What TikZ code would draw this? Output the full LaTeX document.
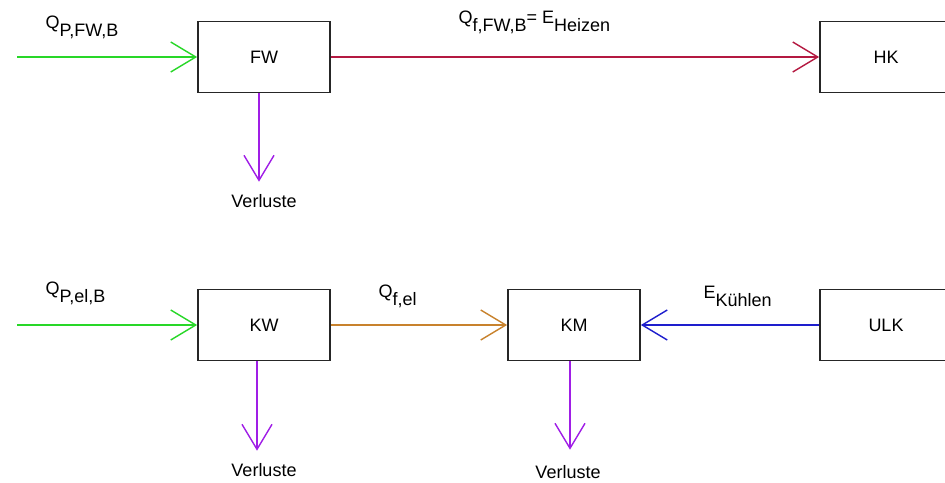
\documentclass[tikz,border=0pt]{standalone}
\usepackage{fontspec}
\setmainfont{Liberation Sans}
\usetikzlibrary{arrows.meta}
\newcommand{\tiefer}[1]{\raisebox{-8pt}{#1}}

\begin{document}
\begin{tikzpicture}[x=1pt, y=-1pt,
			line width=1.4pt,
			block/.style={draw=black!85, line width=1.8pt,
				minimum width=132pt, minimum height=71pt,
				inner sep=0pt, font=\fontsize{18}{20}\selectfont},
			beschr/.style={inner sep=0pt, font=\fontsize{18}{20}\selectfont},
			etikett/.style={beschr, anchor=base west},
			fluss/.style={-{Straight Barb[length=25pt, width=30pt]},
				line width=1.4pt}]
			
			\definecolor{gruen}{RGB}{40,215,40}
			\definecolor{rot}{RGB}{180,25,65}
			\definecolor{lila}{RGB}{160,30,230}
			\definecolor{ocker}{RGB}{200,130,45}
			\definecolor{blau}{RGB}{30,30,205}
			
			\useasboundingbox (0,0) rectangle (945,482);
			
			%% Bilanzknoten
			\node[block] (FW)  at (264,57)  {FW};
			\node[block] (HK)  at (886,57)  {HK};
			\node[block] (KW)  at (264,325) {KW};
			\node[block] (KM)  at (574,325) {KM};
			\node[block] (ULK) at (886,325) {ULK};
			
			%% Verluste unter den Knoten
			\node[beschr] (vFW) at (264,201) {Verluste};
			\node[beschr] (vKW) at (264,470) {Verluste};
			\node[beschr] (vKM) at (568,472) {Verluste};
			
			%% Einspeisung von links
			\coordinate (eFW) at (17,57);
			\coordinate (eKW) at (17,325);
			
			%% Energiefluesse
			\draw[fluss, gruen] (eFW) -- (FW);
			\draw[fluss, rot]   (FW) -- (HK);
			\draw[fluss, gruen] (eKW) -- (KW);
			\draw[fluss, ocker] (KW) -- (KM);
			\draw[fluss, blau]  (ULK) -- (KM);
			
			%% Verlustpfeile
			\draw[fluss, lila, shorten >=12pt] ([xshift=-5pt]FW.south) -- ([xshift=-5pt]vFW.north);
			\draw[fluss, lila, shorten >=12pt] ([xshift=-7pt]KW.south) -- ([xshift=-7pt]vKW.north);
			\draw[fluss, lila, shorten >=15pt] ([xshift=-4pt]KM.south) -- ([xshift=2pt]vKM.north);
			
			%% Beschriftungen der Fluesse
			\node[etikett] (lQPFW) at (45,28)   {Q\tiefer{P,FW,B}};
			\node[etikett] (lQFW)  at (458,23)  {Q\tiefer{f,FW,B}= E\tiefer{Heizen}};
			\node[etikett] (lQPel) at (45,294)  {Q\tiefer{P,el,B}};
			\node[etikett] (lQel)  at (378,297) {Q\tiefer{f,el}};
			\node[etikett] (lEK)   at (703,298) {E\tiefer{Kühlen}};
			
		\end{tikzpicture}
\end{document}
